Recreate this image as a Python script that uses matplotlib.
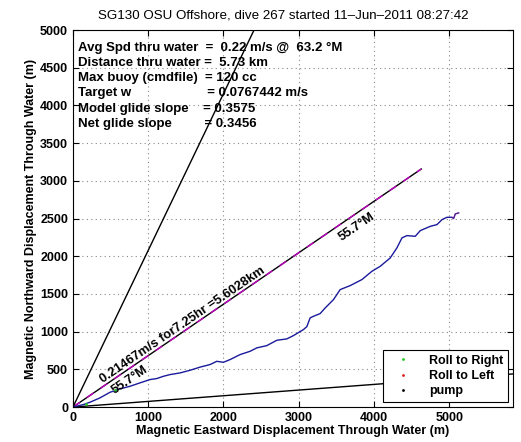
import numpy as np
import matplotlib
matplotlib.use('Agg')
import matplotlib.pyplot as plt

plt.rcParams['font.family'] = ['Liberation Sans', 'DejaVu Sans']

# glider track through water (m)
track_e = [0, 137, 226, 359, 492, 625, 758, 891, 1024, 1113, 1201, 1290, 1423,
           1556, 1689, 1822, 1911, 1999, 2088, 2221, 2354, 2443, 2576, 2709,
           2842, 2930, 3063, 3108, 3152, 3196, 3285, 3352, 3462, 3551, 3684,
           3840, 3973, 4083, 4216, 4305, 4372, 4438, 4549, 4615, 4748, 4837,
           4904, 4970, 5037, 5058, 5081, 5125]
track_n = [0, 33, 64, 122, 196, 241, 276, 321, 365, 378, 408, 431, 453,
           488, 530, 564, 607, 594, 630, 696, 740, 785, 815, 886,
           904, 948, 1028, 1067, 1183, 1204, 1240, 1315, 1425, 1558, 1611,
           1691, 1801, 1867, 1978, 2111, 2244, 2274, 2265, 2340, 2397, 2420,
           2486, 2517, 2517, 2500, 2562, 2575]

# roll markers seen along the track
roll_right_e = [180, 560]
roll_right_n = [45, 225]

heading = 55.7          # deg magnetic
dist_km = 5.6028
speed = 0.21467
hours = 7.25
spread = 30.0           # +/- lines around heading
title = 'SG130 OSU Offshore, dive 267 started 11\u2013Jun\u20132011 08:27:42'
info = ['Avg Spd thru water  =  0.22 m/s @  63.2 \u00b0M',
        'Distance thru water =  5.73 km',
        'Max buoy (cmdfile)  = 120 cc',
        'Target w                     = 0.0767442 m/s',
        'Model glide slope    = 0.3575',
        'Net glide slope         = 0.3456']

fig = plt.figure(figsize=(5.21, 4.42), dpi=100)
ax = fig.add_axes([0.140, 0.079, 0.845, 0.853])

# heading line and +/- spread lines
h = np.radians(heading)
L = dist_km * 1000
ax.plot([0, L*np.sin(h)], [0, L*np.cos(h)], color='k', lw=1)
ax.plot([0, L*np.sin(h)], [0, L*np.cos(h)], color='m', lw=1, ls=(0, (6, 6)))
for d in (-spread, spread):
    a = np.radians(heading + d)
    ax.plot([0, 8000*np.sin(a)], [0, 8000*np.cos(a)], color='k', lw=1)

ax.plot(track_e, track_n, color='#1a1a9c', lw=1)
ax.plot(track_e[-4:], track_n[-4:], color='#b0208a', lw=0.8, alpha=0.5)
ax.plot(roll_right_e, roll_right_n, '.', color='#22cc22', ms=2)

rot = 90 - heading
ax.text(1500, 1023, '%.5gm/s for%.3ghr =%.5gkm' % (speed, hours, dist_km),
        rotation=rot, rotation_mode='anchor', ha='center', va='bottom',
        fontsize=9.3, fontweight='bold')
ax.text(758, 358, '%.1f\u00b0M' % heading, rotation=rot, rotation_mode='anchor',
        ha='center', va='center', fontsize=9.3, fontweight='bold')
ax.text(3772, 2391, '%.1f\u00b0M' % heading, rotation=rot, rotation_mode='anchor',
        ha='center', va='center', fontsize=9.3, fontweight='bold')

for i, s in enumerate(info):
    ax.text(0.012, 0.953 - i*0.0403, s, transform=ax.transAxes, fontsize=9.5,
            fontweight='bold', va='center', ha='left')

l1, = ax.plot([], [], '.', color='#22cc22', ms=2)
l2, = ax.plot([], [], '.', color='#dd2222', ms=2)
l3, = ax.plot([], [], '.', color='k', ms=2)
leg = ax.legend([l1, l2, l3], ['Roll to Right', 'Roll to Left', 'pump'],
                loc='lower right', fancybox=False, framealpha=1, edgecolor='k',
                prop={'weight': 'bold', 'size': 9}, handlelength=2.5,
                labelspacing=0.25, borderaxespad=0.4)
leg.get_frame().set_linewidth(0.8)

ax.set_xlim(0, 5850)
ax.set_ylim(0, 5000)
ax.set_xticks(np.arange(0, 5001, 1000))
ax.set_yticks(np.arange(0, 5001, 500))
ax.grid(True, ls=(0, (1, 3)), color='#888888', lw=0.8)
ax.tick_params(direction='in', top=True, right=True, labelsize=9, length=4)
for t in ax.get_xticklabels() + ax.get_yticklabels():
    t.set_fontweight('bold')
ax.set_xlabel('Magnetic Eastward Displacement Through Water (m)',
              fontsize=9, fontweight='bold', labelpad=1)
ax.set_ylabel('Magnetic Northward Displacement Through Water (m)',
              fontsize=9, fontweight='bold', labelpad=2)
ax.set_title(title, fontsize=9.6, pad=8, x=0.478)

fig.savefig('out.png', dpi=100)
